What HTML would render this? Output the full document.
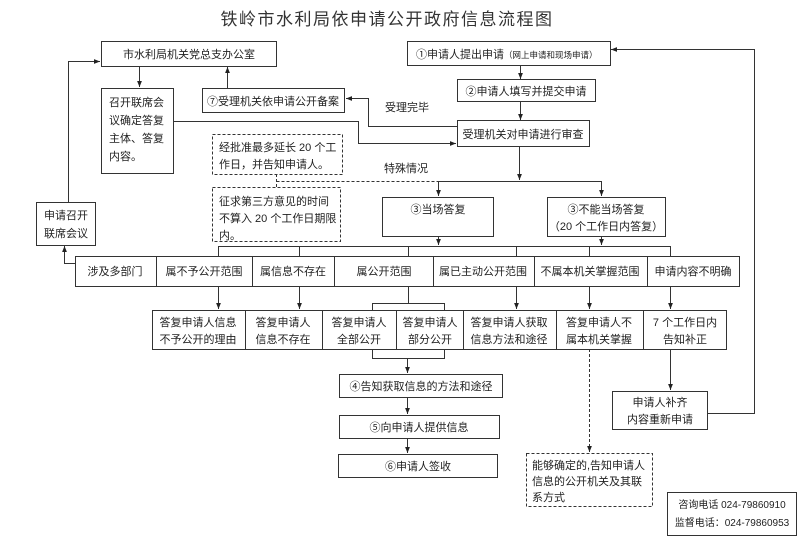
<!DOCTYPE html>
<html><head><meta charset="utf-8"><style>
html,body{margin:0;padding:0;background:#fff}
svg{display:block}
text{font-family:"Liberation Sans","Noto Sans CJK SC",sans-serif;font-size:11px;fill:#222}
</style></head><body>
<svg width="800" height="552" viewBox="0 0 800 552" xmlns="http://www.w3.org/2000/svg">
<defs><marker id="a" viewBox="0 0 10 10" refX="10" refY="5" markerWidth="6" markerHeight="6" orient="auto"><path d="M0,1 L10,5 L0,9 z" fill="#222"/></marker></defs>
<text x="387" y="25" text-anchor="middle" style="font-size:17px;letter-spacing:1.5px;fill:#333">铁岭市水利局依申请公开政府信息流程图</text>
<g fill="none" stroke="#333" stroke-width="1">
<rect x="101.5" y="41.5" width="175" height="25"/>
<rect x="407.5" y="41.5" width="203" height="24"/>
<rect x="457.5" y="79.5" width="138" height="22"/>
<rect x="457.5" y="120.5" width="132" height="26"/>
<rect x="202.5" y="88.5" width="142" height="24"/>
<rect x="101.5" y="88.5" width="72" height="85"/>
<rect x="36.5" y="202.5" width="59" height="43"/>
<rect x="382.5" y="197.5" width="111" height="39"/>
<rect x="547.5" y="197.5" width="118" height="39"/>
<rect x="75.5" y="256.5" width="664" height="30"/>
<path d="M156.5 256v31M252.5 256v31M334.5 256v31M433.5 256v31M534.5 256v31M647.5 256v31"/>
<rect x="152.5" y="310.5" width="574" height="39"/>
<path d="M245.5 310v39M322.5 310v39M396.5 310v39M463.5 310v39M556.5 310v39M643.5 310v39"/>
<rect x="339.5" y="374.5" width="163" height="23"/>
<rect x="339.5" y="415.5" width="160" height="23"/>
<rect x="338.5" y="454.5" width="159" height="23"/>
<rect x="612.5" y="391.5" width="95" height="38"/>
<rect x="667.5" y="492.5" width="129" height="43"/>
<g stroke-dasharray="3,2">
<rect x="212.5" y="134.5" width="130" height="40"/>
<rect x="212.5" y="187.5" width="128" height="54"/>
<rect x="526.5" y="453.5" width="126" height="53"/>
<path d="M276.5 174v13M276.5 181.5H438"/>
<path d="M589.5 349V452" marker-end="url(#a)"/>
</g>
<path d="M520.5 66V79" marker-end="url(#a)"/>
<path d="M520.5 102V120" marker-end="url(#a)"/>
<path d="M519.5 147V180" marker-end="url(#a)"/>
<path d="M438.5 181.5H601.5"/>
<path d="M438.5 181V196" marker-end="url(#a)"/>
<path d="M601.5 181V196" marker-end="url(#a)"/>
<path d="M227.5 88V67" marker-end="url(#a)"/>
<path d="M139.5 67V87" marker-end="url(#a)"/>
<path d="M457 126.5H368.5V98.5H346" marker-end="url(#a)"/>
<path d="M174 121.5H358.5V143.5H456" marker-end="url(#a)"/>
<path d="M68.5 202V61.5H100" marker-end="url(#a)"/>
<path d="M75 263.5H64.5V246" marker-end="url(#a)"/>
<path d="M438.5 237V245" marker-end="url(#a)"/>
<path d="M601.5 237V245" marker-end="url(#a)"/>
<path d="M218.5 256V246.5H670.5V256M299.5 246v10M408.5 246v10M516.5 246v10M589.5 246v10"/>
<path d="M218.5 287V309" marker-end="url(#a)"/>
<path d="M299.5 287V309" marker-end="url(#a)"/>
<path d="M516.5 287V309" marker-end="url(#a)"/>
<path d="M589.5 287V309" marker-end="url(#a)"/>
<path d="M670.5 287V309" marker-end="url(#a)"/>
<path d="M408.5 287V303.5M372.5 310V303.5H444.5V310M372.5 349V358.5H444.5V349"/>
<path d="M407.5 358V373" marker-end="url(#a)"/>
<path d="M407.5 398V414" marker-end="url(#a)"/>
<path d="M407.5 439V453" marker-end="url(#a)"/>
<path d="M670.5 350V390" marker-end="url(#a)"/>
<path d="M708 413.5H754.5V49.5H611" marker-end="url(#a)"/>
</g>
<text x="189" y="58" text-anchor="middle">市水利局机关党总支办公室</text>
<text x="416" y="58">①申请人提出申请<tspan style="font-size:8.5px">（网上申请和现场申请）</tspan></text>
<text x="526" y="95" text-anchor="middle">②申请人填写并提交申请</text>
<text x="523" y="138" text-anchor="middle">受理机关对申请进行审查</text>
<text x="273" y="105" text-anchor="middle">⑦受理机关依申请公开备案</text>
<text x="385" y="111">受理完毕</text>
<text x="384" y="172">特殊情况</text>
<text x="109" y="106">召开联席会</text>
<text x="109" y="124">议确定答复</text>
<text x="109" y="142">主体、答复</text>
<text x="109" y="160">内容。</text>
<text x="44" y="219">申请召开</text>
<text x="44" y="237">联席会议</text>
<text x="219" y="151">经批准最多延长 20 个工</text>
<text x="219" y="168">作日，并告知申请人。</text>
<text x="219" y="205">征求第三方意见的时间</text>
<text x="219" y="222">不算入 20 个工作日期限</text>
<text x="219" y="239">内。</text>
<text x="438" y="213" text-anchor="middle">③当场答复</text>
<text x="606" y="213" text-anchor="middle">③不能当场答复</text>
<text x="606" y="230" text-anchor="middle">（20 个工作日内答复）</text>
<text x="115" y="275" text-anchor="middle">涉及多部门</text>
<text x="204" y="275" text-anchor="middle">属不予公开范围</text>
<text x="293" y="275" text-anchor="middle">属信息不存在</text>
<text x="384" y="275" text-anchor="middle">属公开范围</text>
<text x="483" y="275" text-anchor="middle">属已主动公开范围</text>
<text x="590" y="275" text-anchor="middle">不属本机关掌握范围</text>
<text x="693" y="275" text-anchor="middle">申请内容不明确</text>
<g text-anchor="middle">
<text x="198" y="326">答复申请人信息</text><text x="198" y="343">不予公开的理由</text>
<text x="283" y="326">答复申请人</text><text x="283" y="343">信息不存在</text>
<text x="359" y="326">答复申请人</text><text x="359" y="343">全部公开</text>
<text x="430" y="326">答复申请人</text><text x="430" y="343">部分公开</text>
<text x="509" y="326">答复申请人获取</text><text x="509" y="343">信息方法和途径</text>
<text x="599" y="326">答复申请人不</text><text x="599" y="343">属本机关掌握</text>
<text x="685" y="326">7 个工作日内</text><text x="685" y="343">告知补正</text>
<text x="421" y="390">④告知获取信息的方法和途径</text>
<text x="419" y="431">⑤向申请人提供信息</text>
<text x="418" y="470">⑥申请人签收</text>
<text x="660" y="406">申请人补齐</text><text x="660" y="423">内容重新申请</text>
<text x="732" y="508" style="font-size:10px">咨询电话 024-79860910</text>
<text x="732" y="526" style="font-size:10px">监督电话：024-79860953</text>
</g>
<text x="532" y="469">能够确定的,告知申请人</text>
<text x="532" y="485">信息的公开机关及其联</text>
<text x="532" y="501">系方式</text>
</svg>
</body></html>
